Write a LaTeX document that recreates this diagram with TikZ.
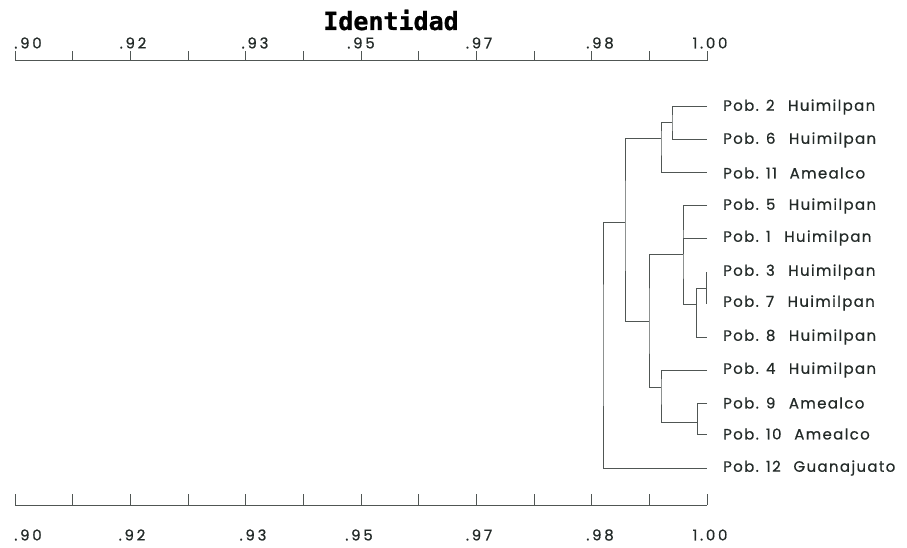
\documentclass[tikz,border=0pt]{standalone}
\usepackage{fontspec}
\setmainfont{Poppins}[LetterSpace=9, FakeBold=0.6]
\newfontfamily\numerofont{Poppins}[LetterSpace=18, FakeBold=0.6]
\newfontfamily\titulofont{DejaVu Sans Mono}[FakeBold=0.8]
\definecolor{linea}{RGB}{80,86,84}
\definecolor{texto}{RGB}{35,42,40}
\tikzset{
	rama/.style={draw=linea, line width=1pt},
	escala/.style={font=\numerofont\fontsize{15}{15}\selectfont, text=texto, inner sep=0pt},
	etiqueta/.style={anchor=west, font=\fontsize{15}{15}\selectfont, text=texto, inner sep=0pt}
}
\begin{document}
\begin{tikzpicture}[x=1pt,y=-1pt]
	\useasboundingbox (0,0) rectangle (907,548);
	
	% Titulo
	\draw (391,20) node[font=\titulofont\bfseries\fontsize{25}{25}\selectfont] (titulo) {Identidad};
	
	% Ejes
	\draw[rama] (15,61) -- (707,61);
	\draw[rama] (15,505) -- (707,505);
	\foreach \k in {0,...,12}{
		\draw[rama] (15+57.67*\k,61) -- (15+57.67*\k,51);
		\draw[rama] (15+57.67*\k,505) -- (15+57.67*\k,494);
	}
	
	% Valores arriba
	\node[escala] (s90) at (28,43) {.90};
	\node[escala] (s92) at (133,43) {.92};
	\node[escala] (s93) at (255,43) {.93};
	\node[escala] (s95) at (361,43) {.95};
	\node[escala] (s97) at (479,43) {.97};
	\node[escala] (s98) at (600,43) {.98};
	\node[escala] (s100) at (710,43) {1.00};
	
	% Valores abajo
	\node[escala] (i90) at (28,535) {.90};
	\node[escala] (i92) at (132,535) {.92};
	\node[escala] (i93) at (253,535) {.93};
	\node[escala] (i95) at (359,535) {.95};
	\node[escala] (i97) at (479,535) {.97};
	\node[escala] (i98) at (600,535) {.98};
	\node[escala] (i100) at (710,535) {1.00};
	
	% Poblaciones
	\node[etiqueta] (e2) at (723,107) {Pob. 2\hspace{0.9em}Huimilpan};
	\node[etiqueta] (e6) at (723,140) {Pob. 6\hspace{0.9em}Huimilpan};
	\node[etiqueta] (e11) at (723,173) {Pob. 11\hspace{0.85em}Amealco};
	\node[etiqueta] (e5) at (723,206) {Pob. 5\hspace{0.9em}Huimilpan};
	\node[etiqueta] (e1) at (723,238) {Pob. 1\hspace{0.9em}Huimilpan};
	\node[etiqueta] (e3) at (723,272) {Pob. 3\hspace{0.9em}Huimilpan};
	\node[etiqueta] (e7) at (723,303) {Pob. 7\hspace{0.9em}Huimilpan};
	\node[etiqueta] (e8) at (723,337) {Pob. 8\hspace{0.9em}Huimilpan};
	\node[etiqueta] (e4) at (723,370) {Pob. 4\hspace{0.9em}Huimilpan};
	\node[etiqueta] (e9) at (723,403) {Pob. 9\hspace{0.9em}Amealco};
	\node[etiqueta] (e10) at (723,434) {Pob. 10\hspace{0.85em}Amealco};
	\node[etiqueta] (e12) at (723,468) {Pob. 12\hspace{0.85em}Guanajuato};
	
	% Hojas
	\coordinate (p2) at (707,107);
	\coordinate (p6) at (707,140);
	\coordinate (p11) at (707,173);
	\coordinate (p5) at (707,206);
	\coordinate (p1) at (707,238);
	\coordinate (p3) at (707,272);
	\coordinate (p7) at (707,303);
	\coordinate (p8) at (707,337);
	\coordinate (p4) at (707,370);
	\coordinate (p9) at (707,403);
	\coordinate (p10) at (707,434);
	\coordinate (p12) at (707,468);
	
	% Uniones
	\coordinate (u26) at (672,123);
	\coordinate (u2611) at (661,139);
	\coordinate (u37) at (706,288);
	\coordinate (u378) at (696,304);
	\coordinate (u51) at (683,254);
	\coordinate (u910) at (697,422);
	\coordinate (u4) at (661,387);
	\coordinate (umedio) at (649,321);
	\coordinate (ugrande) at (625,222);
	\coordinate (raiz) at (603,345);
	
	% Ramas
	\draw[rama] (p2) -| (u26) |- (p6);
	\draw[rama] (u26) -| (u2611) |- (p11);
	\draw[rama] (p3) -| (u37) |- (p7);
	\draw[rama] (u37) -| (u378) |- (p8);
	\draw[rama] (p5) -| (u51) |- (u378);
	\draw[rama] (p1) -| (u51);
	\draw[rama] (p9) -| (u910) |- (p10);
	\draw[rama] (p4) -| (u4) |- (u910);
	\draw[rama] (u51) -| (umedio) |- (u4);
	\draw[rama] (u2611) -| (ugrande) |- (umedio);
	\draw[rama] (ugrande) -| (raiz) |- (p12);
	
\end{tikzpicture}
\end{document}
